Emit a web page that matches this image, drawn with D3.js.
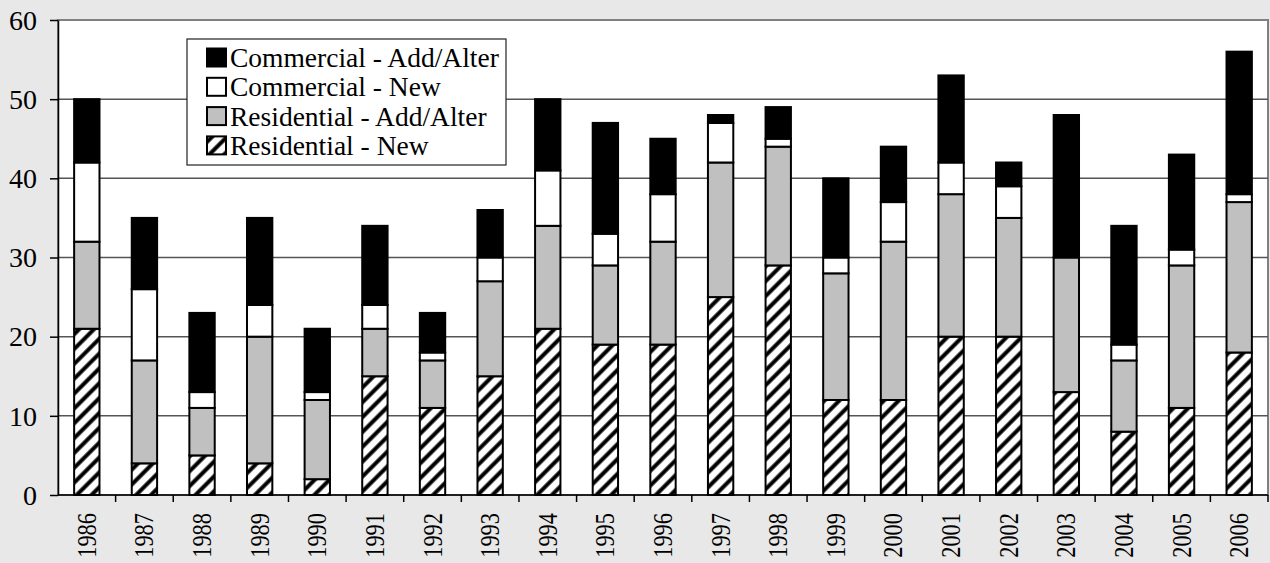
<!DOCTYPE html>
<html>
<head>
<meta charset="utf-8">
<script src="https://cdn.jsdelivr.net/npm/d3@7"></script>
<style>
  body { margin: 0; background: #e8e8e8; }
  svg { display: block; }
  svg text { font-family: "Liberation Serif", "Times New Roman", serif; }
</style>
</head>
<body>
<div id="chart"></div>
<script>
const w = 1270;
const h = 563;
const margin = {top: 20, right: 2, bottom: 68, left: 58};

const years = ["1986", "1987", "1988", "1989", "1990", "1991", "1992", "1993", "1994", "1995", "1996",
  "1997", "1998", "1999", "2000", "2001", "2002", "2003", "2004", "2005", "2006"];
const resNew   = [21, 4, 5, 4, 2, 15, 11, 15, 21, 19, 19, 25, 29, 12, 12, 20, 20, 13, 8, 11, 18];
const resAdd   = [11, 13, 6, 16, 10, 6, 6, 12, 13, 10, 13, 17, 15, 16, 20, 18, 15, 17, 9, 18, 19];
const comNew   = [10, 9, 2, 4, 1, 3, 1, 3, 7, 4, 6, 5, 1, 2, 5, 4, 4, 0, 2, 2, 1];
const comAdd   = [8, 9, 10, 11, 8, 10, 5, 6, 9, 14, 7, 1, 4, 10, 7, 11, 3, 18, 15, 12, 18];
const yTicks = [0, 10, 20, 30, 40, 50, 60];

const seriesNames = ["Residential - New", "Residential - Add/Alter", "Commercial - New", "Commercial - Add/Alter"];
const seriesFill = ["url(#hatch)", "#c0c0c0", "#ffffff", "#000000"];
const seriesVals = [resNew, resAdd, comNew, comAdd];

const table = years.map((y, i) => {
  const row = {year: y};
  seriesNames.forEach((s, k) => row[s] = seriesVals[k][i]);
  return row;
});
const stacked = d3.stack().keys(seriesNames)(table);

const svg = d3.select('#chart')
  .append('svg')
  .attr('width', w)
  .attr('height', h);

// diagonal hatch for Residential - New
const ps = 10.5;
const pat = svg.append('defs').append('pattern')
  .attr('id', 'hatch')
  .attr('patternUnits', 'userSpaceOnUse')
  .attr('width', ps)
  .attr('height', ps)
  .attr('patternTransform', 'rotate(45)');
pat.append('rect').attr('width', ps).attr('height', ps).attr('fill', '#fff');
pat.append('line')
  .attr('x1', ps / 2).attr('y1', 0).attr('x2', ps / 2).attr('y2', ps)
  .attr('stroke', '#000').attr('stroke-width', 4);

const xScale = d3.scaleBand()
  .domain(years)
  .range([margin.left, w - margin.right])
  .paddingInner(0.56)
  .paddingOuter(0.28);

const yScale = d3.scaleLinear()
  .domain([0, 60])
  .range([h - margin.bottom, margin.top]);

// plot area
svg.append('rect')
  .attr('x', margin.left)
  .attr('y', margin.top)
  .attr('width', w - margin.right - margin.left)
  .attr('height', h - margin.bottom - margin.top)
  .attr('fill', '#fff')
  .attr('stroke', '#808080')
  .attr('stroke-width', 2);

// gridlines
svg.append('g')
  .selectAll('line')
  .data(yTicks.slice(1, -1))
  .enter()
  .append('line')
  .attr('x1', margin.left)
  .attr('x2', w - margin.right)
  .attr('y1', d => yScale(d))
  .attr('y2', d => yScale(d))
  .attr('stroke', '#555')
  .attr('stroke-width', 1.5);

// bars
svg.append('g')
  .selectAll('g')
  .data(stacked)
  .enter()
  .append('g')
  .attr('fill', (d, i) => seriesFill[i])
  .selectAll('rect')
  .data(d => d)
  .enter()
  .append('rect')
  .attr('x', d => xScale(d.data.year))
  .attr('y', d => yScale(d[1]))
  .attr('width', xScale.bandwidth())
  .attr('height', d => yScale(d[0]) - yScale(d[1]))
  .attr('stroke', '#000')
  .attr('stroke-width', 2)
  .style('display', d => d[1] - d[0] > 0 ? null : 'none');

// y axis
const yAxis = d3.axisLeft(yScale)
  .tickValues(yTicks)
  .tickSize(8)
  .tickSizeOuter(0);
const gy = svg.append('g')
  .attr('transform', 'translate(' + margin.left + ',0)')
  .call(yAxis)
  .attr('font-family', null);
gy.select('.domain').attr('stroke', '#000').attr('stroke-width', 1.5);
gy.selectAll('.tick line').attr('stroke', '#000').attr('stroke-width', 1.5);
gy.selectAll('.tick text')
  .attr('font-size', '28px')
  .attr('fill', '#000')
  .attr('x', -21)
  .attr('dy', '0.33em');

// x axis
const gx = svg.append('g')
  .attr('transform', 'translate(0,' + (h - margin.bottom) + ')');
gx.append('line')
  .attr('x1', margin.left).attr('x2', w - margin.right)
  .attr('stroke', '#000').attr('stroke-width', 1.5);
gx.selectAll('line.tick')
  .data(years)
  .enter()
  .append('line')
  .attr('class', 'tick')
  .attr('x1', d => xScale(d) + xScale.bandwidth() / 2 + xScale.step() / 2)
  .attr('x2', d => xScale(d) + xScale.bandwidth() / 2 + xScale.step() / 2)
  .attr('y1', 0).attr('y2', 7)
  .attr('stroke', '#000').attr('stroke-width', 1.5);
gx.selectAll('text')
  .data(years)
  .enter()
  .append('text')
  .text(d => d)
  .attr('transform', d => 'translate(' + (xScale(d) + xScale.bandwidth() / 2 + 9) + ',18) rotate(-90) scale(0.83,1)')
  .attr('text-anchor', 'end')
  .attr('font-size', '27px')
  .attr('fill', '#000');

// legend
const lx = 187, ly = 39;
const legend = svg.append('g');
legend.append('rect')
  .attr('x', lx).attr('y', ly)
  .attr('width', 319).attr('height', 126)
  .attr('fill', '#fff')
  .attr('stroke', '#222')
  .attr('stroke-width', 1.2);
const legendOrder = [3, 2, 1, 0];
legendOrder.forEach((k, i) => {
  const cy = ly + 18.5 + i * 29.3;
  legend.append('rect')
    .attr('x', lx + 20).attr('y', cy - 9)
    .attr('width', 19).attr('height', 18)
    .attr('fill', seriesFill[k])
    .attr('stroke', '#000')
    .attr('stroke-width', 2);
  legend.append('text')
    .attr('x', lx + 43).attr('y', cy + 9.5)
    .text(seriesNames[k])
    .attr('font-size', '27.5px')
    .attr('fill', '#000');
});
</script>
</body>
</html>
